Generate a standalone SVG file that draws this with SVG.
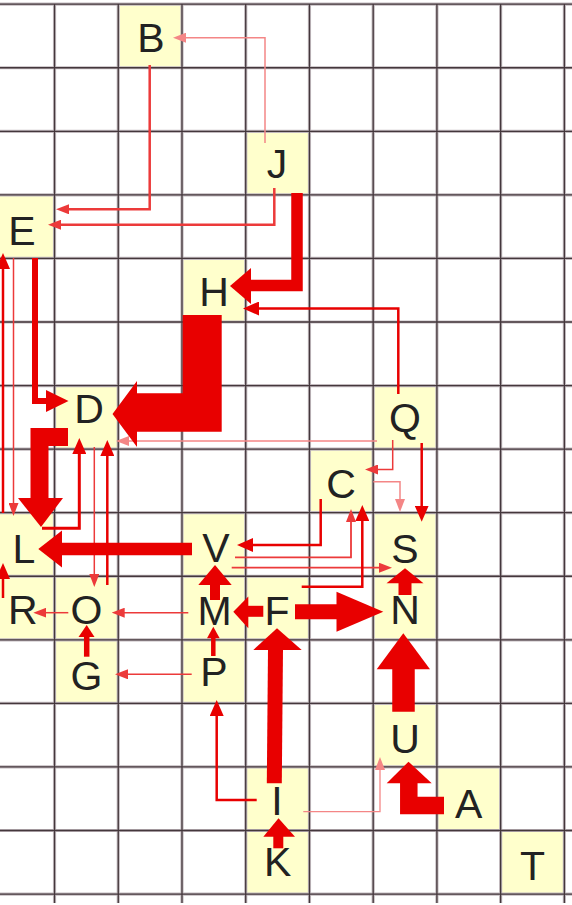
<svg xmlns="http://www.w3.org/2000/svg" width="572" height="905" viewBox="0 0 572 905">
<style>
.bg{fill:#ffffff}
.cell{fill:#ffffcc}
.lbl{font-family:"Liberation Sans",Arial,sans-serif;font-size:41px;fill:#222222;text-anchor:middle}
.gh{stroke:#c2babe;stroke-width:3.2;fill:none}
.gd{stroke:#44373c;stroke-width:1.3;fill:none}
.e{fill:none;stroke-linejoin:miter;stroke-linecap:butt}
.r1{stroke:#e80000}
.r2{stroke:#ec3a3a}
.r3{stroke:#f48686}
.hd{fill:#e80000;stroke:none}
</style>
<defs>
<marker id="sM" viewBox="0 0 13 10" markerWidth="13" markerHeight="10" refX="3" refY="5" orient="auto" markerUnits="userSpaceOnUse"><path d="M0,0L13,5L0,10z" fill="#ec3a3a"/></marker>
<marker id="sL" viewBox="0 0 13 10" markerWidth="13" markerHeight="10" refX="3" refY="5" orient="auto" markerUnits="userSpaceOnUse"><path d="M0,0L13,5L0,10z" fill="#f48686"/></marker>
<marker id="mM" viewBox="0 0 16 14" markerWidth="16" markerHeight="14" refX="3" refY="7" orient="auto" markerUnits="userSpaceOnUse"><path d="M0,0L16,7L0,14z" fill="#e80000"/></marker>
</defs>
<rect class="bg" x="0" y="0" width="572" height="905"/>
<g id="nodes">
<g id="node-B"><rect class="cell" x="118.26" y="4.2" width="63.73" height="63.56"/><text class="lbl" x="151" y="51.5">B</text></g>
<g id="node-J"><rect class="cell" x="245.72" y="131.32" width="63.73" height="63.56"/><text class="lbl" x="277" y="178">J</text></g>
<g id="node-E"><rect class="cell" x="-9.2" y="194.88" width="63.73" height="63.56"/><text class="lbl" x="22" y="244.7">E</text></g>
<g id="node-H"><rect class="cell" x="181.99" y="258.44" width="63.73" height="63.56"/><text class="lbl" x="214" y="305.7">H</text></g>
<g id="node-D"><rect class="cell" x="54.53" y="385.56" width="63.73" height="63.56"/><text class="lbl" x="89" y="422.7">D</text></g>
<g id="node-Q"><rect class="cell" x="373.18" y="385.56" width="63.73" height="63.56"/><text class="lbl" x="405" y="432">Q</text></g>
<g id="node-C"><rect class="cell" x="309.45" y="449.12" width="63.73" height="63.56"/><text class="lbl" x="341" y="498">C</text></g>
<g id="node-L"><rect class="cell" x="-9.2" y="512.68" width="63.73" height="63.56"/><text class="lbl" x="24" y="563">L</text></g>
<g id="node-V"><rect class="cell" x="181.99" y="512.68" width="63.73" height="63.56"/><text class="lbl" x="216" y="561.5">V</text></g>
<g id="node-S"><rect class="cell" x="373.18" y="512.68" width="63.73" height="63.56"/><text class="lbl" x="405" y="563">S</text></g>
<g id="node-R"><rect class="cell" x="-9.2" y="576.24" width="63.73" height="63.56"/><text class="lbl" x="22.7" y="623.5">R</text></g>
<g id="node-O"><rect class="cell" x="54.53" y="576.24" width="63.73" height="63.56"/><text class="lbl" x="86.4" y="623.5">O</text></g>
<g id="node-M"><rect class="cell" x="181.99" y="576.24" width="63.73" height="63.56"/><text class="lbl" x="214.5" y="624.7">M</text></g>
<g id="node-F"><rect class="cell" x="245.72" y="576.24" width="63.73" height="63.56"/><text class="lbl" x="277" y="624.7">F</text></g>
<g id="node-N"><rect class="cell" x="373.18" y="576.24" width="63.73" height="63.56"/><text class="lbl" x="405" y="623.7">N</text></g>
<g id="node-G"><rect class="cell" x="54.53" y="639.8" width="63.73" height="63.56"/><text class="lbl" x="86.4" y="689.5">G</text></g>
<g id="node-P"><rect class="cell" x="181.99" y="639.8" width="63.73" height="63.56"/><text class="lbl" x="214" y="686.4">P</text></g>
<g id="node-U"><rect class="cell" x="373.18" y="703.36" width="63.73" height="63.56"/><text class="lbl" x="405" y="753">U</text></g>
<g id="node-I"><rect class="cell" x="245.72" y="766.92" width="63.73" height="63.56"/><text class="lbl" x="277" y="814.7">I</text></g>
<g id="node-A"><rect class="cell" x="436.91" y="766.92" width="63.73" height="63.56"/><text class="lbl" x="468.8" y="818">A</text></g>
<g id="node-K"><rect class="cell" x="245.72" y="830.48" width="63.73" height="63.56"/><text class="lbl" x="277.6" y="876.4">K</text></g>
<g id="node-T"><rect class="cell" x="500.64" y="830.48" width="63.73" height="63.56"/><text class="lbl" x="532.5" y="879.7">T</text></g>
</g>
<g id="grid">
<path class="gh" d="M0,4.2H572M0,67.76H572M0,131.32H572M0,194.88H572M0,258.44H572M0,322H572M0,385.56H572M0,449.12H572M0,512.68H572M0,576.24H572M0,639.8H572M0,703.36H572M0,766.92H572M0,830.48H572M0,894.04H572M54.53,4.2V903M118.26,4.2V903M181.99,4.2V903M245.72,4.2V903M309.45,4.2V903M373.18,4.2V903M436.91,4.2V903M500.64,4.2V903M564.37,4.2V903"/>
<path class="gd" d="M0,4.2H572M0,67.76H572M0,131.32H572M0,194.88H572M0,258.44H572M0,322H572M0,385.56H572M0,449.12H572M0,512.68H572M0,576.24H572M0,639.8H572M0,703.36H572M0,766.92H572M0,830.48H572M0,894.04H572M54.53,4.2V903M118.26,4.2V903M181.99,4.2V903M245.72,4.2V903M309.45,4.2V903M373.18,4.2V903M436.91,4.2V903M500.64,4.2V903M564.37,4.2V903"/>
</g>
<g id="connectors">
<path class="e r3" stroke-width="1.5" d="M265,143V37.7H183" marker-end="url(#sL)"/>
<path class="e r2" stroke-width="2.5" d="M149.7,65V209.3H66" marker-end="url(#sM)"/>
<path class="e r2" stroke-width="2.5" d="M274.3,188V224.7H58" marker-end="url(#sM)"/>
<path class="e r1" stroke-width="2.5" d="M398.3,394V308.5H256" marker-end="url(#mM)"/>
<path class="e r3" stroke-width="1.5" d="M377,441H126" marker-end="url(#sL)"/>
<path class="e r2" stroke-width="1.5" d="M13.5,258V506" marker-end="url(#sM)"/>
<path class="e r1" stroke-width="2.5" d="M3,513V266" marker-end="url(#mM)"/>
<path class="e r1" stroke-width="2.5" d="M3,598V576" marker-end="url(#mM)"/>
<path class="e r1" stroke-width="3" d="M42,528.3H79.3V451" marker-end="url(#mM)"/>
<path class="e r2" stroke-width="1.5" d="M94.3,447V577" marker-end="url(#sM)"/>
<path class="e r1" stroke-width="2.5" d="M107.3,585V453" marker-end="url(#mM)"/>
<path class="e r1" stroke-width="2.5" d="M320.7,499V545H250" marker-end="url(#mM)"/>
<path class="e r2" stroke-width="1.8" d="M235,557.3H351V519" marker-end="url(#sM)"/>
<path class="e r2" stroke-width="1.8" d="M231.7,567.7H382" marker-end="url(#sM)"/>
<path class="e r1" stroke-width="2.5" d="M301.7,586.7H362.3V518" marker-end="url(#mM)"/>
<path class="e r2" stroke-width="1.5" d="M392.7,440V469.5H375" marker-end="url(#sM)"/>
<path class="e r3" stroke-width="1.5" d="M373.3,481.7H400V502" marker-end="url(#sL)"/>
<path class="e r1" stroke-width="2.5" d="M421.7,443V508.7" marker-end="url(#mM)"/>
<path class="e r1" stroke-width="2.5" d="M256.7,800H216.7V713" marker-end="url(#mM)"/>
<path class="e r2" stroke-width="1.5" d="M191.7,674.3H125" marker-end="url(#sM)"/>
<path class="e r2" stroke-width="1.5" d="M68.3,612.7H43.3" marker-end="url(#sM)"/>
<path class="e r2" stroke-width="1.5" d="M188.3,612.7H121.7" marker-end="url(#sM)"/>
<path class="e r3" stroke-width="1.3" d="M303.3,811.7H380V767" marker-end="url(#sL)"/>
<path class="e r1" stroke-width="11.5" d="M297,193V285.5H249"/>
<polygon class="hd" points="251,268 230,286 251,304"/>
<polygon class="hd" points="182.7,315 221.7,315 221.7,431.7 137,431.7 137,447 112.5,414 137,381 137,393.3 182.7,393.3"/>
<path class="e r1" stroke-width="6" d="M35,258V401H48"/>
<polygon class="hd" points="46,390 68.5,401 46,412"/>
<path class="e r1" stroke-width="18" d="M68,437H39.5V499"/>
<polygon class="hd" points="18,498 63,498 41,527"/>
<path class="e r1" stroke-width="12.5" d="M192,549H61"/>
<polygon class="hd" points="62,530.5 38.3,549 62,567.5"/>
<path class="e r1" stroke-width="13" d="M405,595V582"/>
<polygon class="hd" points="386.5,583.3 423.5,583.3 405,568.3"/>
<path class="e r1" stroke-width="10" d="M215,600V584"/>
<polygon class="hd" points="198.3,585 231.7,585 215,565"/>
<path class="e r1" stroke-width="11" d="M263.3,611.3H247"/>
<polygon class="hd" points="248.3,596.5 248.3,628.3 233.3,611.7"/>
<path class="e r1" stroke-width="15" d="M295,611.7H337"/>
<polygon class="hd" points="336.5,591.7 336.5,631.7 383.3,611.7"/>
<path class="e r1" stroke-width="15" d="M274.3,783.3L275.5,649"/>
<polygon class="hd" points="253.3,650 301.7,650 277,628.3"/>
<path class="e r1" stroke-width="10" d="M278.3,848.3V835"/>
<polygon class="hd" points="263.3,836.7 295,836.7 278.5,818.3"/>
<path class="e r1" stroke-width="4.5" d="M213.3,656V637"/>
<polygon class="hd" points="207,638.3 219.7,638.3 213.3,626.7"/>
<path class="e r1" stroke-width="5.5" d="M86.7,656.7V636"/>
<polygon class="hd" points="78.5,637 94.5,637 86.7,625"/>
<path class="e r1" stroke-width="22.5" d="M403.5,711.7V668"/>
<polygon class="hd" points="376.7,669.3 430,669.3 403.3,633.3"/>
<path class="e r1" stroke-width="17.5" d="M444,805.5H408.8V782"/>
<polygon class="hd" points="386.7,783.3 431.7,783.3 408.5,761.7"/>
</g>
</svg>
